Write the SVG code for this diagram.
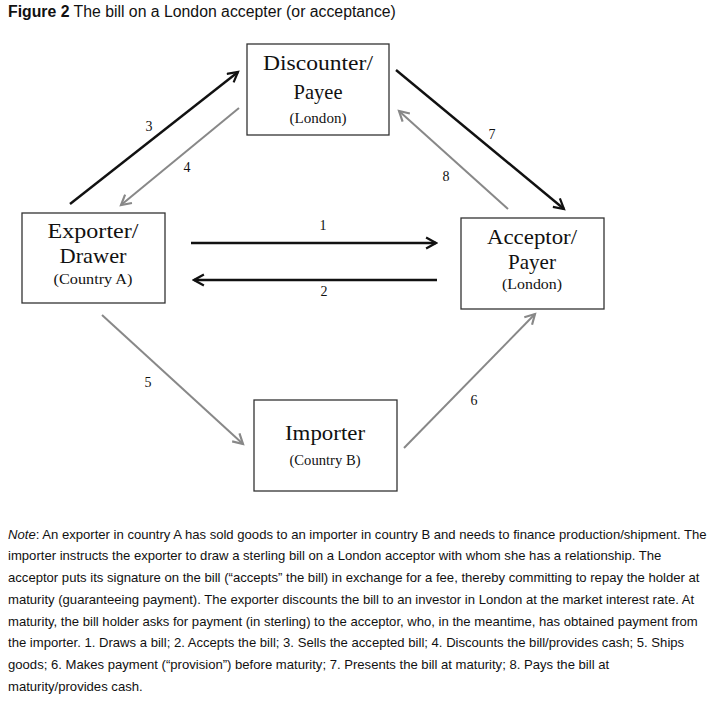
<svg xmlns="http://www.w3.org/2000/svg" width="714" height="702" viewBox="0 0 714 702">
<defs>
<style>
.box{fill:#fff;stroke:#333;stroke-width:1.3}
.lbl{font-family:"Liberation Serif","Times New Roman",serif;fill:#111;text-anchor:middle}
.big{font-size:22px}
.small{font-size:14.5px}
.num{font-family:"Liberation Serif","Times New Roman",serif;font-size:14px;fill:#111;text-anchor:middle}
.blk{stroke:#111;stroke-width:2.4;fill:none}
.gry{stroke:#888;stroke-width:2;fill:none}
.note{font-family:"Liberation Sans",Arial,sans-serif;font-size:13.1px;fill:#111}
</style>
<marker id="ab" viewBox="0 0 12 12" refX="10" refY="6" markerWidth="5.5" markerHeight="5.5" orient="auto" markerUnits="strokeWidth">
<path d="M1,1 L10,6 L1,11" fill="none" stroke="#111" stroke-width="2"/>
</marker>
<marker id="ag" viewBox="0 0 12 12" refX="10" refY="6" markerWidth="6.5" markerHeight="6.5" orient="auto" markerUnits="strokeWidth">
<path d="M1,1 L10,6 L1,11" fill="none" stroke="#888" stroke-width="2"/>
</marker>
</defs>
<rect width="714" height="702" fill="#fff"/>
<text x="8" y="17" font-family="Liberation Sans,Arial,sans-serif" font-size="15.8" fill="#111"><tspan font-weight="bold">Figure 2</tspan> The bill on a London accepter (or acceptance)</text>

<g id="connectors">
<line class="blk" x1="70" y1="204" x2="238" y2="72" marker-end="url(#ab)"/>
<line class="gry" x1="239" y1="108" x2="121" y2="205" marker-end="url(#ag)"/>
<line class="blk" x1="396" y1="70" x2="564" y2="209" marker-end="url(#ab)"/>
<line class="gry" x1="508" y1="209" x2="399" y2="111" marker-end="url(#ag)"/>
<line class="blk" x1="191" y1="243" x2="436" y2="243" marker-end="url(#ab)"/>
<line class="blk" x1="437" y1="280" x2="194" y2="280" marker-end="url(#ab)"/>
<line class="gry" x1="102" y1="315" x2="243" y2="444" marker-end="url(#ag)"/>
<line class="gry" x1="404" y1="448" x2="535" y2="314" marker-end="url(#ag)"/>
<text class="num" x="149" y="131">3</text>
<text class="num" x="187" y="172">4</text>
<text class="num" x="492" y="139">7</text>
<text class="num" x="446" y="181">8</text>
<text class="num" x="323" y="230">1</text>
<text class="num" x="324" y="296">2</text>
<text class="num" x="148" y="387">5</text>
<text class="num" x="474" y="405">6</text>
</g>

<g id="discounter">
<rect class="box" x="247" y="44" width="142" height="91"/>
<text class="lbl big" x="318" y="70" textLength="110" lengthAdjust="spacingAndGlyphs">Discounter/</text>
<text class="lbl big" x="318" y="99" textLength="49" lengthAdjust="spacingAndGlyphs">Payee</text>
<text class="lbl small" x="318" y="123" textLength="57" lengthAdjust="spacingAndGlyphs">(London)</text>
</g>
<g id="exporter">
<rect class="box" x="22" y="213" width="143" height="90"/>
<text class="lbl big" x="93" y="238" textLength="91" lengthAdjust="spacingAndGlyphs">Exporter/</text>
<text class="lbl big" x="93" y="263" textLength="67" lengthAdjust="spacingAndGlyphs">Drawer</text>
<text class="lbl small" x="93" y="284" textLength="79" lengthAdjust="spacingAndGlyphs">(Country A)</text>
</g>
<g id="acceptor">
<rect class="box" x="461" y="218" width="143" height="91"/>
<text class="lbl big" x="532" y="244" textLength="90" lengthAdjust="spacingAndGlyphs">Acceptor/</text>
<text class="lbl big" x="532" y="269" textLength="48" lengthAdjust="spacingAndGlyphs">Payer</text>
<text class="lbl small" x="532" y="289" textLength="60" lengthAdjust="spacingAndGlyphs">(London)</text>
</g>
<g id="importer">
<rect class="box" x="254" y="400" width="143" height="91"/>
<text class="lbl big" x="325" y="440" textLength="80" lengthAdjust="spacingAndGlyphs">Importer</text>
<text class="lbl small" x="325" y="465" textLength="71" lengthAdjust="spacingAndGlyphs">(Country B)</text>
</g>

<g id="note">
<text class="note" x="8" y="539"><tspan font-style="italic">Note</tspan>: An exporter in country A has sold goods to an importer in country B and needs to finance production/shipment. The</text>
<text class="note" x="8" y="560">importer instructs the exporter to draw a sterling bill on a London acceptor with whom she has a relationship. The</text>
<text class="note" x="8" y="582">acceptor puts its signature on the bill (“accepts” the bill) in exchange for a fee, thereby committing to repay the holder at</text>
<text class="note" x="8" y="604">maturity (guaranteeing payment). The exporter discounts the bill to an investor in London at the market interest rate. At</text>
<text class="note" x="8" y="626">maturity, the bill holder asks for payment (in sterling) to the acceptor, who, in the meantime, has obtained payment from</text>
<text class="note" x="8" y="647">the importer. 1. Draws a bill; 2. Accepts the bill; 3. Sells the accepted bill; 4. Discounts the bill/provides cash; 5. Ships</text>
<text class="note" x="8" y="669">goods; 6. Makes payment (“provision”) before maturity; 7. Presents the bill at maturity; 8. Pays the bill at</text>
<text class="note" x="8" y="691">maturity/provides cash.</text>
</g>
</svg>
